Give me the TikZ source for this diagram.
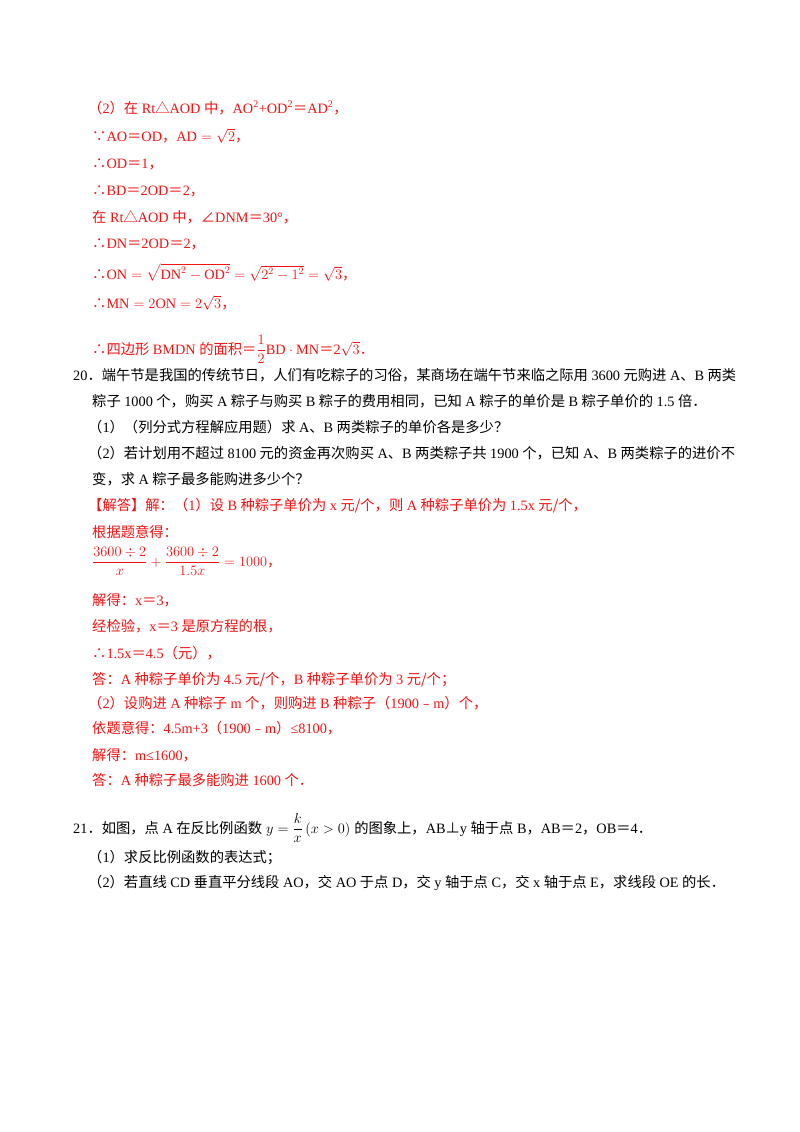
\documentclass[tikz,border=0pt]{standalone}
\usepackage{amsmath}
\usepackage{fontspec}
\setmainfont{Liberation Serif}
\newfontfamily\cjkfam{Noto Sans CJK SC}
\newfontfamily\latfam{Liberation Serif}
\def\cjkf{\ifmmode\else\cjkfam\fi}
\def\latf{\ifmmode\else\latfam\fi}
\def\cjksp{\ifmmode\else\hskip3.5pt\relax\fi}
\newXeTeXintercharclass\cjkc
\newXeTeXintercharclass\cjkp
\newcount\cc
\def\setrange#1#2#3{\cc=#1 \loop\XeTeXcharclass\cc=#3 \advance\cc 1 \ifnum\cc<#2 \repeat}
\setrange{"3000}{"3040}{\cjkp}
\setrange{"3040}{"A000}{\cjkc}
\setrange{"FF00}{"FFF0}{\cjkp}
\setrange{"FE30}{"FE70}{\cjkp}
\setrange{"2234}{"2236}{\cjkp}
\setrange{"25B3}{"25B4}{\cjkp}
\setrange{"2220}{"2221}{\cjkp}
\setrange{"22A5}{"22A6}{\cjkp}
\XeTeXcharclass`\/=\cjkp
\XeTeXinterchartoks 0 \cjkc = {\cjksp\cjkf}
\XeTeXinterchartoks 4095 \cjkc = {\cjkf}
\XeTeXinterchartoks \cjkc 0 = {\latf\cjksp}
\XeTeXinterchartoks 0 \cjkp = {\cjkf}
\XeTeXinterchartoks 4095 \cjkp = {\cjkf}
\XeTeXinterchartoks \cjkp 0 = {\latf}
\XeTeXinterchartokenstate=1
\definecolor{ans}{RGB}{240,20,20}
\begin{document}
\begin{tikzpicture}[x=1pt,y=-1pt,
  txt/.style={anchor=base west,inner sep=0pt,font=\fontsize{14.3}{16}\selectfont},
  red/.style={txt,text=ans}]
\useasboundingbox[fill=white] (0,0) rectangle (800,1132);
\node[red] (l1) at (88,113) {（2）在Rt△AOD中，AO\textsuperscript{2}+OD\textsuperscript{2}＝AD\textsuperscript{2}，};
\node[red] (l2) at (92,141) {∵AO＝OD，$\mathrm{AD}=\sqrt{2}$，};
\node[red] (l3) at (92,168) {∴OD＝1，};
\node[red] (l4) at (92,195) {∴BD＝2OD＝2，};
\node[red] (l5) at (92,222) {在Rt△AOD中，∠DNM＝30°，};
\node[red] (l6) at (92,248) {∴DN＝2OD＝2，};
\node[red] (l7) at (92,279) {∴$\mathrm{ON}=\sqrt{\mathrm{DN}^2-\mathrm{OD}^2}=\sqrt{2^2-1^2}=\sqrt{3}$，};
\node[red] (l8) at (92,308) {∴$\mathrm{MN}=2\mathrm{ON}=2\sqrt{3}$，};
\node[red] (l9) at (92,354) {∴四边形BMDN的面积＝$\dfrac{1}{2}\mathrm{BD}\cdot\mathrm{MN}$＝2$\sqrt{3}$．};
\node[txt] (q1) at (73,380) {20．端午节是我国的传统节日，人们有吃粽子的习俗，某商场在端午节来临之际用3600元购进A、B两类};
\node[txt] (q2) at (92,406) {粽子1000个，购买A粽子与购买B粽子的费用相同，已知A粽子的单价是B粽子单价的1.5倍．};
\node[txt] (q3) at (88,432) {（1）（列分式方程解应用题）求A、B两类粽子的单价各是多少？};
\node[txt] (q4) at (88,458) {（2）若计划用不超过8100元的资金再次购买A、B两类粽子共1900个，已知A、B两类粽子的进价不};
\node[txt] (q5) at (92,484) {变，求A粽子最多能购进多少个？};
\node[red] (a1) at (88,510) {【解答】解：（1）设B种粽子单价为x元/个，则A种粽子单价为1.5x元/个，};
\node[red] (a2) at (92,537) {根据题意得：};
\node[red] (a3) at (92,566) {$\dfrac{3600\div 2}{x}+\dfrac{3600\div 2}{1.5x}=1000$，};
\node[red] (a4) at (92,605) {解得：x＝3，};
\node[red] (a5) at (92,631) {经检验，x＝3是原方程的根，};
\node[red] (a6) at (92,658) {∴1.5x＝4.5（元），};
\node[red] (a7) at (92,684) {答：A种粽子单价为4.5元/个，B种粽子单价为3元/个；};
\node[red] (a8) at (88,708) {（2）设购进A种粽子m个，则购进B种粽子（1900﹣m）个，};
\node[red] (a9) at (92,733) {依题意得：4.5m+3（1900﹣m）≤8100，};
\node[red] (a10) at (92,760) {解得：m≤1600，};
\node[red] (a11) at (92,785) {答：A种粽子最多能购进1600个．};
\node[txt] (r1) at (73,833) {21．如图，点A在反比例函数\hskip4pt$y=\dfrac{k}{x}\,(x>0)$\hskip4pt的图象上，AB⊥y轴于点B，AB＝2，OB＝4．};
\node[txt] (r2) at (88,862) {（1）求反比例函数的表达式；};
\node[txt] (r3) at (88,887) {（2）若直线CD垂直平分线段AO，交AO于点D，交y轴于点C，交x轴于点E，求线段OE的长．};
\end{tikzpicture}
\end{document}
